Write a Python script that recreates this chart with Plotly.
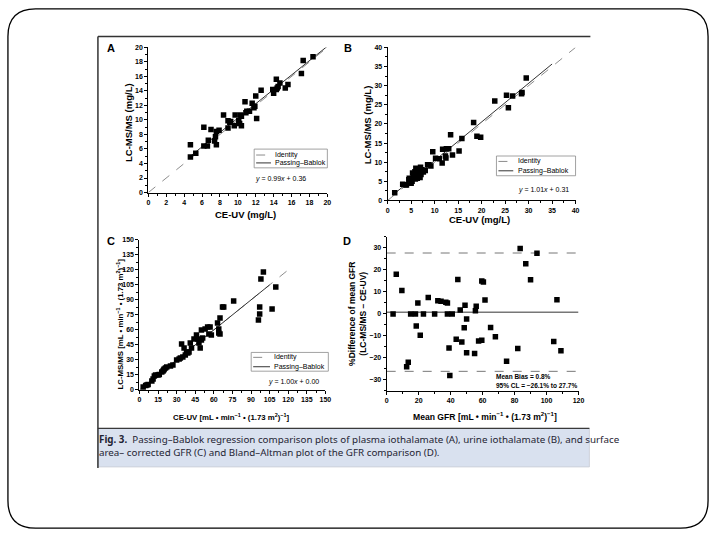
import plotly.graph_objects as go

W, H = 720, 540

# Panel A - plasma iothalamate (mg/L)
a_ceuv = [4.7, 4.7, 5.3, 6.2, 6.2, 6.6, 6.7, 7.0, 7.4, 7.5, 7.6, 7.6, 7.9, 8.4, 8.9, 8.9,
          9.1, 9.2, 9.6, 9.7, 10.1, 10.2, 10.3, 10.4, 10.4, 10.8, 10.9, 11.0, 11.3, 11.6,
          11.8, 11.9, 12.0, 12.1, 12.6, 13.9, 14.0, 14.3, 14.3, 14.4, 14.5, 14.7, 15.3,
          15.6, 17.1, 17.3, 18.4]
a_lcms = [6.6, 4.9, 5.4, 9.0, 6.4, 6.4, 7.2, 8.7, 7.1, 7.7, 8.4, 6.6, 8.6, 10.7, 9.9, 8.9,
          9.7, 9.8, 9.2, 10.7, 9.9, 9.5, 10.7, 9.2, 10.5, 12.5, 11.0, 11.2, 11.2, 12.3,
          11.7, 11.9, 13.3, 10.2, 14.1, 14.2, 13.7, 15.6, 14.2, 14.4, 14.6, 15.1, 14.4,
          14.9, 16.4, 18.2, 18.7]

# Panel B - urine iothalamate (mg/L)
b_ceuv = [1.5, 3.2, 3.8, 4.0, 4.5, 4.6, 5.0, 5.2, 5.3, 5.5, 5.8, 5.9, 6.0, 6.1, 6.3, 6.4,
          6.5, 6.7, 6.8, 6.9, 7.0, 7.1, 7.3, 7.6, 8.0, 8.5, 8.8, 9.2, 9.6, 10.2, 11.0,
          11.6, 11.7, 12.3, 12.4, 12.5, 13.0, 13.4, 13.8, 15.2, 15.8, 18.3, 19.0, 19.8,
          22.8, 25.3, 25.7, 26.6, 28.5, 28.6, 29.5]
b_lcms = [2.0, 4.2, 4.1, 4.0, 5.4, 5.8, 4.5, 5.0, 7.2, 6.0, 7.5, 5.6, 8.4, 6.2, 5.8, 8.3,
          7.0, 6.4, 7.7, 6.0, 8.7, 6.8, 8.0, 7.4, 7.8, 9.3, 9.3, 9.0, 12.7, 11.0, 10.9,
          9.8, 13.4, 11.6, 11.1, 13.5, 13.5, 17.2, 11.9, 12.9, 16.2, 20.4, 16.8, 16.5,
          26.0, 27.5, 24.2, 27.3, 27.9, 28.2, 32.0]

# Panel C - surface area corrected GFR
c_ceuv = [3, 5, 6, 7, 10, 11, 12, 13, 15, 16, 18, 19, 19.5, 20, 21, 22, 25, 27, 30, 32, 33,
          34, 35, 36, 37, 38, 39, 40, 41, 42, 44, 46, 47, 48, 49, 50, 50, 51, 53, 55, 56,
          57, 58, 63, 64, 64, 65, 65, 67, 68, 76, 96, 97, 97, 98, 100, 107, 110]
c_lcms = [3, 4.5, 5, 5.5, 9, 11, 14, 15, 15, 15.5, 18, 19, 20, 21, 22, 23, 24, 25, 30, 31,
          32, 46, 33, 42, 35, 38, 37, 38, 47, 42, 51, 55, 51, 47, 42, 50, 60, 52, 61, 63,
          56, 63, 55, 67, 61, 57, 72, 56, 83, 83, 89, 70, 76, 83, 111, 118, 81, 103]

# Panel D - Bland-Altman
d_mean = [4, 6, 9.5, 12.5, 13.5, 15, 18, 18.5, 19.5, 21, 23, 26, 30, 32, 34, 37, 38, 38,
          39, 39.5, 41, 43.5, 44.5, 46, 47, 48.5, 49, 50, 50, 55, 55.5, 56, 57.5, 59.5,
          59.5, 60.5, 61.5, 65, 68, 75, 82, 83.5, 87, 90, 94, 104.5, 106.5, 109]
d_diff = [0, 18, 10.6, -24, -22, 0, 0, -5.5, 5, -9.7, 0, 7.5, 0, 6, 5.8, 5.3, 5, 0,
          -15.5, -28, 0, -11.5, 15.7, 1.8, -12.8, -6.3, 4, -2.3, -17.7, -18, 1.5, 3.5,
          -12.3, -12, 15, 14.5, 6.3, -6.2, -10.4, -21.5, -15.7, 29.8, 22.8, 15.5, 27.6,
          -12.5, 6.4, -16.7]
d_bias = 0.8
d_lower = -26.1
d_upper = 27.7
d_span = [0, 120]

# regression lines: slope, intercept, x span of fit, x span of identity
fits = {
    "A": (0.99, 0.36, [4.6, 20], [0, 20]),
    "B": (1.01, 0.31, [1.5, 35], [0, 40]),
    "C": (1.00, 0.00, [2, 105], [0, 120]),
}

FONT = "Liberation Sans, Arial, sans-serif"


def px(x):
    return x / W


def py(y):
    return 1 - y / H


fig = go.Figure()

panels = [("A", a_ceuv, a_lcms, "x", "y"),
          ("B", b_ceuv, b_lcms, "x2", "y2"),
          ("C", c_ceuv, c_lcms, "x3", "y3")]

for key, xs, ys, xa, ya in panels:
    slope, icpt, fx, ix = fits[key]
    fig.add_trace(go.Scatter(x=ix, y=ix, mode="lines", xaxis=xa, yaxis=ya,
                             line=dict(color="#8c8c8c", width=1, dash="dash")))
    fig.add_trace(go.Scatter(x=fx, y=[slope * v + icpt for v in fx], mode="lines",
                             xaxis=xa, yaxis=ya, line=dict(color="#333333", width=1)))
    fig.add_trace(go.Scatter(x=xs, y=ys, mode="markers", xaxis=xa, yaxis=ya,
                             marker=dict(symbol="square", size=5.5, color="black")))

# Bland-Altman panel
fig.add_trace(go.Scatter(x=d_span, y=[d_upper] * 2, mode="lines", xaxis="x4", yaxis="y4",
                         line=dict(color="#777777", width=1, dash="dash")))
fig.add_trace(go.Scatter(x=d_span, y=[d_lower] * 2, mode="lines", xaxis="x4", yaxis="y4",
                         line=dict(color="#777777", width=1, dash="dash")))
fig.add_trace(go.Scatter(x=d_span, y=[d_bias] * 2, mode="lines", xaxis="x4", yaxis="y4",
                         line=dict(color="#777777", width=1.5)))
fig.add_trace(go.Scatter(x=d_mean, y=d_diff, mode="markers", xaxis="x4", yaxis="y4",
                         marker=dict(symbol="square", size=5.5, color="black")))


def axis(x0, x1, rng, dtick, minor, anchor, horizontal=True):
    if horizontal:
        dom = [px(x0), px(x1)]
    else:
        dom = [py(x1), py(x0)]
    return dict(domain=dom, range=rng, dtick=dtick, tick0=0, anchor=anchor,
                ticks="outside", ticklen=3, tickwidth=1, tickcolor="black",
                showline=True, linecolor="black", linewidth=1.1,
                showgrid=False, zeroline=False, fixedrange=True,
                tickfont=dict(family=FONT, size=7, color="black", weight="bold"),
                minor=dict(dtick=minor, ticks="outside", ticklen=2, tickwidth=0.8,
                           tickcolor="black", showgrid=False))


layout_axes = dict(
    xaxis=axis(148, 329, [0, 20], 2, 1, "y"),
    yaxis=axis(44, 191, [0, 20], 2, 1, "x", False),
    xaxis2=axis(390, 580, [0, 40], 5, 2.5, "y2"),
    yaxis2=axis(44, 199, [0, 40], 5, 2.5, "x2", False),
    xaxis3=axis(139, 327, [0, 150], 15, 7.5, "y3"),
    yaxis3=axis(239, 391, [0, 150], 15, 7.5, "x3", False),
    xaxis4=axis(389, 583, [0, 120], 20, 10, "y4"),
    yaxis4=axis(236, 392, [-35, 35], 10, 5, "x4", False),
)

ann = []


def text(x, y, s, size=7, bold=False, angle=0, anchor="center"):
    ann.append(dict(x=px(x), y=py(y), xref="paper", yref="paper", text=s,
                    showarrow=False, textangle=angle, xanchor=anchor, yanchor="middle",
                    font=dict(family=FONT, size=size, color="black",
                              weight="bold" if bold else "normal")))


unit = "[mL • min<sup>−1</sup> • (1.73 m<sup>2</sup>)<sup>−1</sup>]"

# panel letters
text(110, 45, "A", 11, True)
text(350, 45, "B", 11, True)
text(110, 240, "C", 11, True)
text(349, 240, "D", 11, True)

# axis titles
text(128, 120, "LC-MS/MS (mg/L)", 9.5, True, -90)
text(246, 213, "CE-UV (mg/L)", 9.5, True)
text(370, 122, "LC-MS/MS (mg/L)", 9.5, True, -90)
text(483, 218.5, "CE-UV (mg/L)", 9.5, True)
text(119, 324, "LC-MS/MS " + unit, 7.8, True, -90)
text(232, 418, "CE-UV " + unit, 7.8, True)
text(360, 314, "%Difference of mean GFR<br>(LC-MS/MS − CE-UV)", 8.5, True, -90)
text(488, 418, "Mean GFR " + unit, 8.6, True)

# regression equations
text(282, 177, "<i>y</i> = 0.99<i>x</i> + 0.36", 7)
text(548, 188, "<i>y</i> = 1.01<i>x</i> + 0.31", 7)
text(295, 383, "<i>y</i> = 1.00<i>x</i> + 0.00", 7)

# Bland-Altman notes
text(498, 377, "Mean Bias = 0.8%", 6.5, True, anchor="left")
text(498, 387, "95% CL = −26.1% to 27.7%", 6.5, True, anchor="left")

shapes = []


def line(x0, y0, x1, y1, color, width=1, dash="solid"):
    shapes.append(dict(type="line", xref="paper", yref="paper",
                       x0=px(x0), y0=py(y0), x1=px(x1), y1=py(y1),
                       line=dict(color=color, width=width, dash=dash)))


def rect(x0, y0, x1, y1, color, fill="rgba(0,0,0,0)", width=1):
    shapes.append(dict(type="rect", xref="paper", yref="paper",
                       x0=px(x0), y0=py(y0), x1=px(x1), y1=py(y1),
                       fillcolor=fill, line=dict(color=color, width=width), layer="below"))


# custom legends
for (bx0, by0, bx1, by1, l0, l1, tx, y1, y2) in [
        (255, 147, 329, 166, 257, 272, 274, 153, 161),
        (500, 154, 580, 174, 502, 517, 520, 159.5, 169),
        (252, 353, 330, 372, 254, 271, 273, 358, 367.5)]:
    rect(bx0, by0, bx1, by1, "#8a8a8a", "white", 0.8)
    line(l0, y1, l1, y1, "#8c8c8c", 1, "dash")
    line(l0, y2, l1, y2, "#333333", 1)
    text(tx, y1, "Identity", 7, anchor="left")
    text(tx, y2, "Passing–Bablok", 7, anchor="left")

# caption box and figure borders
rect(97, 430, 594, 469, "#c8ccd4", "#d9e1ef", 0.8)
line(97, 430, 594, 430, "#3a3a3a", 1.2)
line(97, 33, 595, 33, "#333333", 1.5)
line(97, 33, 97, 470, "#333333", 1.5)

caption = ("<b>Fig. 3.</b>  Passing–Bablok regression comparison plots of plasma iothalamate (A), "
           "urine iothalamate (B), and surface<br>"
           "area– corrected GFR (C) and Bland–Altman plot of the GFR comparison (D).")
ann.append(dict(x=px(96), y=py(448), xref="paper", yref="paper", text=caption,
                showarrow=False, xanchor="left", yanchor="middle", align="left",
                font=dict(family="Noto Sans, sans-serif", size=9.8, color="#1f2433")))

# slide frame with rounded corners
r = 28
x0, y0, x1, y1 = 6, 5, 714, 531
path = (f"M {px(x0 + r)} {py(y0)} L {px(x1 - r)} {py(y0)} "
        f"Q {px(x1)} {py(y0)} {px(x1)} {py(y0 + r)} L {px(x1)} {py(y1 - r)} "
        f"Q {px(x1)} {py(y1)} {px(x1 - r)} {py(y1)} L {px(x0 + r)} {py(y1)} "
        f"Q {px(x0)} {py(y1)} {px(x0)} {py(y1 - r)} L {px(x0)} {py(y0 + r)} "
        f"Q {px(x0)} {py(y0)} {px(x0 + r)} {py(y0)} Z")
shapes.append(dict(type="path", xref="paper", yref="paper", path=path,
                   line=dict(color="black", width=1.3)))

fig.update_layout(
    width=W, height=H,
    margin=dict(l=0, r=0, t=0, b=0),
    paper_bgcolor="white", plot_bgcolor="rgba(0,0,0,0)",
    showlegend=False,
    annotations=ann, shapes=shapes,
    **layout_axes,
)

# page body margin off so the 720x540 figure fills the window exactly
fig.write_html("out.html", config={"displayModeBar": False},
               post_script="document.body.style.margin='0px';")
